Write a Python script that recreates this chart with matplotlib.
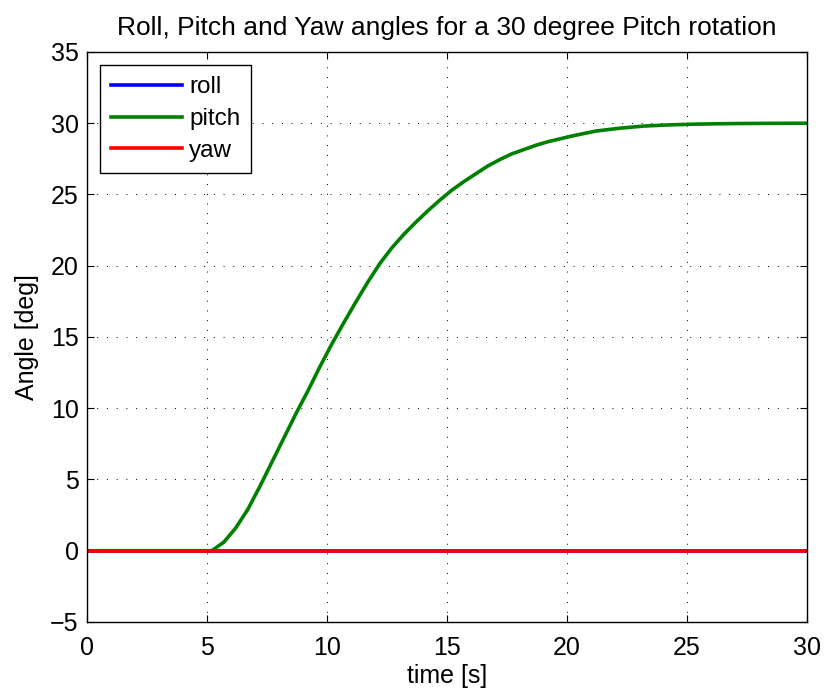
import numpy as np
import matplotlib.pyplot as plt

plt.rcParams['font.family'] = ['Liberation Sans', 'DejaVu Sans']

# Simulation output
t = [0, 5.2, 5.7, 6.2, 6.7, 7.2, 7.7, 8.2, 8.7, 9.2, 9.7, 10.2, 10.7, 11.2,
     11.7, 12.2, 12.7, 13.2, 13.7, 14.2, 14.7, 15.2, 15.7, 16.2, 16.7, 17.2,
     17.7, 18.2, 18.7, 19.2, 19.7, 20.2, 21.2, 22.2, 23.2, 24.2, 25.2, 26.2,
     27.2, 28.2, 30]
pitch = [0, 0, 0.6, 1.6, 2.9, 4.5, 6.2, 7.9, 9.6, 11.2, 12.9, 14.5, 16.0, 17.45,
         18.85, 20.15, 21.25, 22.2, 23.05, 23.85, 24.6, 25.3, 25.9, 26.45, 27.0,
         27.45, 27.85, 28.15, 28.45, 28.7, 28.9, 29.1, 29.45, 29.65, 29.8,
         29.88, 29.93, 29.96, 29.98, 29.99, 30.0]
roll = [0] * len(t)
yaw = [0] * len(t)

fig = plt.figure(figsize=(8.27, 6.93), dpi=100)
ax = fig.add_axes([0.1052, 0.1025, 0.8706, 0.8225])

ax.plot(t, roll, color='#0000ff', linewidth=2.6, label='roll')
ax.plot(t, pitch, color='#008000', linewidth=2.6, label='pitch')
ax.plot(t, yaw, color='#ff0000', linewidth=2.6, label='yaw')

ax.set_xlim(0, 30)
ax.set_ylim(-5, 35)
ax.set_xticks(np.arange(0, 31, 5))
ax.set_yticks(np.arange(-5, 36, 5))
ax.set_yticklabels(['\u22125'] + [str(v) for v in range(0, 36, 5)])
ax.tick_params(direction='in', top=True, right=True, labelsize=18, length=5)
ax.tick_params(axis='x', pad=10)
ax.tick_params(axis='y', pad=6)
ax.grid(True, linestyle=(0, (1, 9)), color='black', linewidth=0.7)
for s in ax.spines.values():
    s.set_linewidth(1.0)

ax.set_xlabel('time [s]', fontsize=18, labelpad=3)
ax.set_ylabel('Angle [deg]', fontsize=18, labelpad=8)
ax.set_title('Roll, Pitch and Yaw angles for a 30 degree Pitch rotation', fontsize=19, pad=12)

leg = ax.legend(loc='upper left', fontsize=17.5, handlelength=2.9, fancybox=False,
                edgecolor='black', framealpha=1, borderaxespad=0.55,
                labelspacing=0.4, handletextpad=0.3, borderpad=0.45)
leg.get_frame().set_linewidth(1.0)

plt.savefig('out.png', dpi=100)
